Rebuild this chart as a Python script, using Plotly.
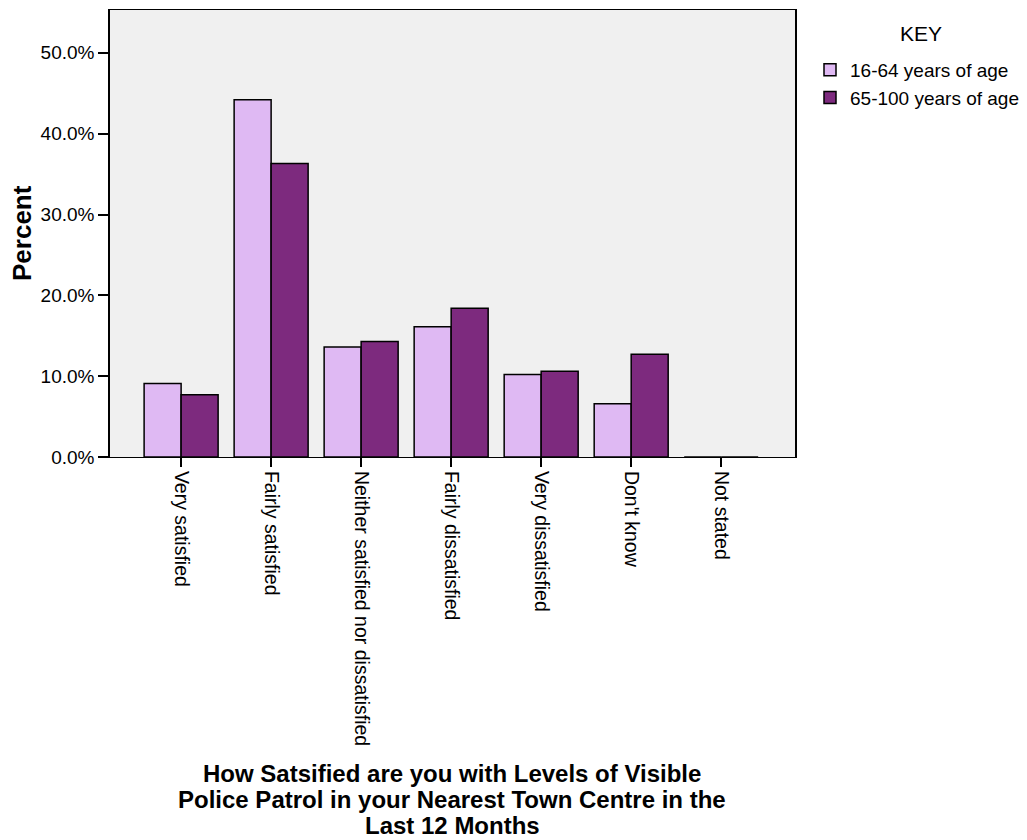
import plotly.graph_objects as go

categories = ["Very satisfied", "Fairly satisfied", "Neither satisfied nor dissatisfied",
              "Fairly dissatisfied", "Very dissatisfied", "Don't know", "Not stated"]
age_16_64 = [9.1, 44.2, 13.6, 16.1, 10.2, 6.6, 0.0]
age_65_100 = [7.7, 36.3, 14.3, 18.4, 10.6, 12.7, 0.0]
series_names = ["16-64 years of age", "65-100 years of age"]
y_ticks = [0, 10, 20, 30, 40, 50]
y_tick_labels = ["0.0%", "10.0%", "20.0%", "30.0%", "40.0%", "50.0%"]
title_lines = ["How Satsified are you with Levels of Visible",
               "Police Patrol in your Nearest Town Centre in the",
               "Last 12 Months"]

FONT = "Liberation Sans, Arial, sans-serif"

# plot area in page pixels: x 110..795, y 10..457
PX0, PX1, PY0, PY1 = 110, 795, 10, 457
def px(x):
    return (x - PX0) / (PX1 - PX0)
def py(y):
    return (PY1 - y) / (PY1 - PY0)

fig = go.Figure()
fig.add_trace(go.Bar(x=categories, y=age_16_64, name=series_names[0],
                     marker=dict(color="#DFB9F3", line=dict(color="black", width=1.5))))
fig.add_trace(go.Bar(x=categories, y=age_65_100, name=series_names[1],
                     marker=dict(color="#7D2A7E", line=dict(color="black", width=1.5))))

annotations = []
for i, line in enumerate(title_lines):
    annotations.append(dict(text="<b>" + line + "</b>", xref="paper", yref="paper",
                            x=px(452), y=py(773 + 26 * i), xanchor="center", yanchor="middle",
                            showarrow=False, font=dict(size=24, family=FONT)))
annotations.append(dict(text="<b>Percent</b>", xref="paper", yref="paper",
                        x=px(22), y=py(233), textangle=-90,
                        xanchor="center", yanchor="middle", showarrow=False,
                        font=dict(size=26, family=FONT)))
annotations.append(dict(text="KEY", xref="paper", yref="paper",
                        x=px(921), y=py(33), xanchor="center", yanchor="middle",
                        showarrow=False, font=dict(size=21, family=FONT)))

fig.update_layout(
    width=1019, height=832,
    margin=dict(l=102, r=232, t=2, b=383),
    paper_bgcolor="white", plot_bgcolor="#F0F0F0",
    barmode="group", bargap=0.178, bargroupgap=0,
    font=dict(family=FONT, size=16, color="black"),
    showlegend=True,
    legend=dict(x=px(810), y=py(51), xanchor="left", yanchor="top",
                font=dict(size=19), bgcolor="rgba(0,0,0,0)",
                tracegroupgap=0),
    xaxis=dict(type="category", range=[-0.79, 6.82], tickangle=90,
               ticks="outside", ticklen=9, tickwidth=2, tickcolor="black",
               showline=True, linecolor="black", linewidth=1, mirror=True,
               showgrid=False, tickfont=dict(size=19.5)),
    yaxis=dict(range=[0, 55.3], tickvals=y_ticks, ticktext=y_tick_labels,
               ticks="outside", ticklen=10, tickwidth=2, tickcolor="black",
               showline=True, linecolor="black", linewidth=1.5, mirror=True,
               showgrid=False, zeroline=False, tickfont=dict(size=19)),
    annotations=annotations,
)

fig.write_html("out.html")
